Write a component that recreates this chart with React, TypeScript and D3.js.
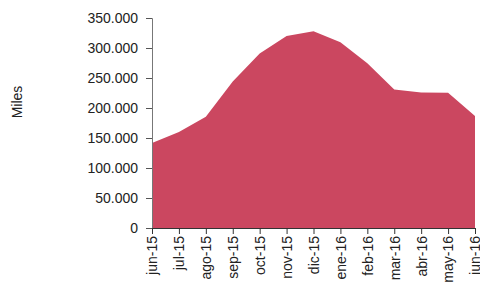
import React, { useRef, useEffect } from "react";
import * as d3 from "d3";

// monthly values, in thousands
const months = [
  "jun-15", "jul-15", "ago-15", "sep-15", "oct-15", "nov-15", "dic-15",
  "ene-16", "feb-16", "mar-16", "abr-16", "may-16", "jun-16",
];
const values = [
  141700, 160000, 185500, 244000, 291000, 320000, 328000,
  309500, 274500, 231000, 226000, 225500, 186700,
];
const yTicks = [0, 50000, 100000, 150000, 200000, 250000, 300000, 350000];

const App: React.FC = () => {
  const svgRef = useRef<SVGSVGElement>(null);

  useEffect(() => {
    const width = 480;
    const height = 282;
    const left = 152;
    const right = 475;
    const top = 18;
    const bottom = 228;

    const svg = d3
      .select(svgRef.current)
      .attr("width", width)
      .attr("height", height)
      .style("font-family", "'Liberation Sans', Arial, sans-serif");

    svg.selectAll("*").remove();

    const x = d3.scalePoint<string>().domain(months).range([left, right]);
    const y = d3.scaleLinear().domain([0, 350000]).range([bottom, top]);

    const area = d3
      .area<number>()
      .x((_, i) => x(months[i]) as number)
      .y0(y(0))
      .y1((d) => y(d));

    svg
      .append("path")
      .datum(values)
      .attr("fill", "#cb4760")
      .attr("d", area);

    const fmt = (v: number) =>
      v === 0 ? "0" : d3.format(",")(v).replace(/,/g, ".");

    // y axis
    const yAxis = svg
      .append("g")
      .attr("transform", `translate(${left},0)`)
      .call(
        d3.axisLeft(y).tickValues(yTicks).tickSize(6).tickPadding(8).tickFormat((d) => fmt(+d))
      );
    yAxis.select(".domain").attr("stroke", "#777");
    yAxis.selectAll(".tick line").attr("stroke", "#555");
    yAxis
      .selectAll("text")
      .attr("font-size", 14)
      .attr("fill", "#222")
      .attr("font-family", "'Liberation Sans', Arial, sans-serif");

    // x axis
    const xAxis = svg
      .append("g")
      .attr("transform", `translate(0,${bottom})`)
      .call(d3.axisBottom(x).tickSize(6).tickPadding(3));
    xAxis.select(".domain").attr("stroke", "#333");
    xAxis.selectAll(".tick line").attr("stroke", "#333");
    xAxis
      .selectAll("text")
      .attr("font-size", 14)
      .attr("fill", "#222")
      .attr("font-family", "'Liberation Sans', Arial, sans-serif")
      .attr("text-anchor", "end")
      .attr("transform", "rotate(-90)")
      .attr("x", -8)
      .attr("y", 0)
      .attr("dy", "0.35em");

    svg
      .append("text")
      .attr("transform", "translate(22,102) rotate(-90)")
      .attr("text-anchor", "middle")
      .attr("font-size", 14)
      .attr("fill", "#222")
      .text("Miles");
  }, []);

  return (
    <svg
      ref={svgRef}
      style={{ position: "absolute", left: 0, top: 0, display: "block" }}
    ></svg>
  );
};

export default App;
